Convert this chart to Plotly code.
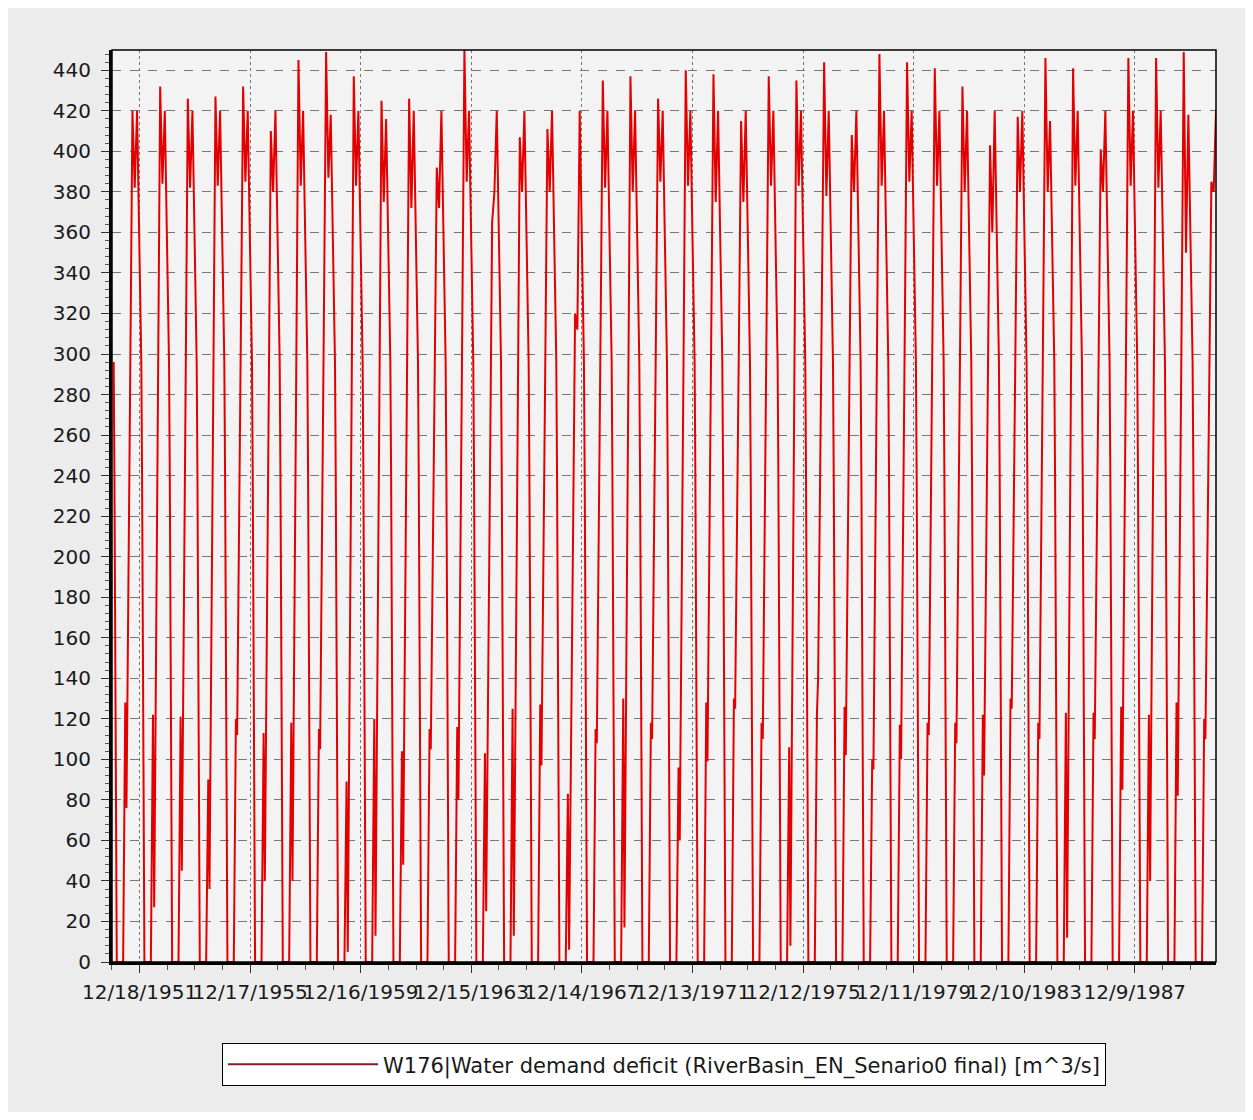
import pandas as pd
import plotly.graph_objects as go

# sample dates inside each year (month, day) -- the series is not evenly spaced
sample_days = [(1, 10), (1, 20), (2, 20), (3, 15), (4, 15), (5, 15),
               (6, 12), (6, 28), (8, 15), (9, 15), (10, 15), (11, 15)]

# values, one row per year
years = list(range(1951, 1991))
deficit = [
    [296, 240, 0, 0, 0, 0, 128, 76, 282, 420, 382, 420],
    [296, 240, 0, 0, 0, 0, 122, 27, 270, 432, 384, 420],
    [296, 240, 0, 0, 0, 0, 121, 45, 274, 426, 382, 420],
    [296, 240, 0, 0, 0, 0, 90, 36, 271, 427, 383, 420],
    [296, 240, 0, 0, 0, 0, 120, 112, 304, 432, 385, 420],
    [296, 240, 0, 0, 0, 0, 113, 40, 262, 410, 380, 420],
    [296, 240, 0, 0, 0, 0, 118, 40, 283, 445, 383, 420],
    [296, 240, 0, 0, 0, 0, 115, 105, 311, 449, 387, 418],
    [296, 240, 0, 0, 0, 0, 89, 5, 264, 437, 383, 420],
    [296, 240, 0, 0, 0, 0, 120, 13, 260, 425, 375, 416],
    [296, 240, 0, 0, 0, 0, 104, 48, 275, 426, 372, 420],
    [296, 240, 0, 0, 0, 0, 115, 105, 277, 392, 372, 420],
    [296, 240, 0, 0, 0, 0, 116, 80, 302, 450, 385, 420],
    [296, 240, 0, 0, 0, 0, 103, 25, 229, 365, 380, 420],
    [296, 240, 0, 0, 0, 0, 125, 13, 249, 407, 380, 420],
    [296, 240, 0, 0, 0, 0, 127, 97, 285, 411, 380, 420],
    [296, 240, 0, 0, 0, 0, 83, 6, 194, 320, 312, 420],
    [296, 240, 0, 0, 0, 0, 115, 108, 304, 435, 382, 420],
    [296, 240, 0, 0, 0, 0, 130, 17, 269, 437, 380, 420],
    [296, 240, 0, 0, 0, 0, 118, 110, 300, 426, 385, 420],
    [296, 240, 0, 0, 0, 0, 96, 60, 288, 440, 383, 420],
    [296, 240, 0, 0, 0, 0, 128, 99, 302, 438, 375, 420],
    [296, 240, 0, 0, 0, 0, 130, 125, 299, 415, 375, 420],
    [296, 240, 0, 0, 0, 0, 118, 110, 306, 437, 383, 420],
    [296, 240, 0, 0, 0, 0, 106, 8, 264, 435, 383, 420],
    [296, 240, 0, 0, 0, 0, 122, 140, 322, 444, 378, 420],
    [296, 240, 0, 0, 0, 0, 126, 102, 286, 408, 380, 420],
    [296, 240, 0, 0, 0, 0, 100, 95, 307, 448, 383, 420],
    [296, 240, 0, 0, 0, 0, 117, 100, 306, 444, 385, 420],
    [296, 240, 0, 0, 0, 0, 118, 112, 309, 441, 383, 420],
    [296, 240, 0, 0, 0, 0, 118, 108, 302, 432, 380, 420],
    [296, 240, 0, 0, 0, 0, 122, 92, 279, 403, 360, 420],
    [296, 240, 0, 0, 0, 0, 130, 125, 300, 417, 380, 420],
    [296, 240, 0, 0, 0, 0, 118, 110, 312, 446, 380, 415],
    [296, 240, 0, 0, 0, 0, 123, 12, 269, 441, 383, 420],
    [296, 240, 0, 0, 0, 0, 123, 110, 285, 401, 380, 420],
    [296, 240, 0, 0, 0, 0, 126, 85, 302, 446, 383, 420],
    [296, 240, 0, 0, 0, 0, 122, 40, 284, 446, 382, 420],
    [296, 240, 0, 0, 0, 0, 128, 82, 302, 449, 350, 418],
    [296, 240, 0, 0, 0, 0, 120, 110, 275, 385, 380, 420],
]
tick_labels = ["12/18/1951", "12/17/1955", "12/16/1959", "12/15/1963", "12/14/1967",
               "12/13/1971", "12/12/1975", "12/11/1979", "12/10/1983", "12/9/1987"]
series_name = "W176|Water demand deficit (RiverBasin_EN_Senario0 final) [m^3/s]"

dates, values = [], []
for yr, row in zip(years, deficit):
    for (m, d), v in zip(sample_days, row):
        dates.append(pd.Timestamp(yr, m, d))
        values.append(v)

tick_dates = pd.to_datetime(tick_labels, format="%m/%d/%Y")
font = "DejaVu Sans"

fig = go.Figure()
fig.add_trace(go.Scatter(x=dates, y=values, mode="lines", showlegend=False,
                         line=dict(color="#e30000", width=2)))
# legend entry drawn in the darker red of the original key
fig.add_trace(go.Scatter(x=[None], y=[None], mode="lines", name=series_name,
                         line=dict(color="#8a1a28", width=2)))

fig.update_layout(
    width=1237, height=1104,
    margin=dict(l=104, r=29, t=42, b=150),
    paper_bgcolor="#ececec", plot_bgcolor="#f3f3f3",
    font=dict(family=font, size=20, color="#1a1a1a"),
    showlegend=True,
    legend=dict(x=0.5, xanchor="center", y=-0.089, yanchor="top",
                bgcolor="white", bordercolor="black", borderwidth=1,
                font=dict(family=font, size=21), itemwidth=150),
)
fig.update_xaxes(
    type="date", range=["1950-12-19", "1990-11-15"],
    tickmode="array", tickvals=tick_dates, ticktext=tick_labels, tickangle=0,
    ticks="outside", ticklen=8, tickcolor="#333",
    showgrid=True, gridcolor="#777", griddash="dot", gridwidth=1,
    showline=True, linecolor="black", linewidth=3,
    minor=dict(ticks="outside", ticklen=5, tickcolor="#555",
               tick0="1951-12-18", dtick=365 * 86400000, showgrid=False),
    zeroline=False, ticklabelstandoff=2,
)
fig.update_yaxes(
    range=[0, 450], dtick=20, ticks="outside", ticklen=8, tickcolor="#333",
    showgrid=True, gridcolor="#777", griddash="dash", gridwidth=1,
    showline=True, linecolor="black", linewidth=3,
    minor=dict(ticks="outside", ticklen=4, tickcolor="#555", dtick=4, showgrid=False),
    zeroline=False, ticklabelstandoff=6,
)
fig.add_shape(type="rect", xref="paper", yref="paper", x0=0, x1=1, y0=0, y1=1,
              line=dict(color="black", width=1.5), fillcolor="rgba(0,0,0,0)")

fig.write_html("out.html")
